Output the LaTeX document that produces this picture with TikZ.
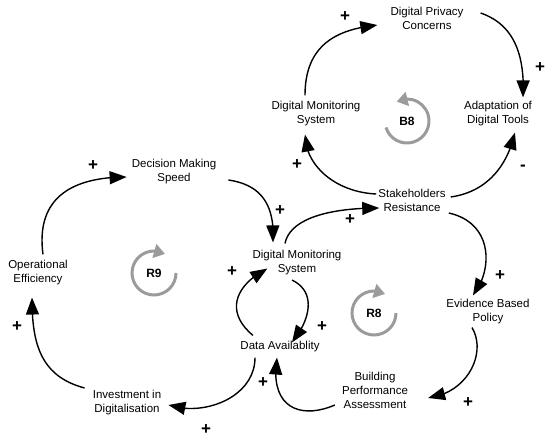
\documentclass[tikz,border=0pt]{standalone}
\usepackage{fontspec}
\setmainfont{Liberation Sans}
\definecolor{loopgray}{RGB}{155,155,155}
\usetikzlibrary{arrows.meta,bending,calc}

\begin{document}
\begin{tikzpicture}[x=1pt,y=-1pt,
        var/.style={align=center, inner sep=3pt, font=\fontsize{11.5}{14}\selectfont},
        link/.style={line width=1.4pt, -{Triangle[length=17pt,width=13pt]}},
        sign/.style={inner sep=0pt, font=\fontsize{17}{17}\selectfont\bfseries},
        looplbl/.style={inner sep=0pt, font=\fontsize{12}{14}\selectfont\bfseries},
        looparr/.style={loopgray, line width=3pt, -{Triangle[length=11pt,width=14pt]}}]
    \useasboundingbox (0,0) rectangle (550,441);

    \node[var] (dpc) at (427,18) {Digital Privacy\\Concerns};
    \node[var] (dmsT) at (316,114) {Digital Monitoring\\System};
    \node[var] (adt) at (498,114) {Adaptation of\\Digital Tools};
    \node[var] (sr) at (412,200) {Stakeholders\\Resistance};
    \node[var] (dspeed) at (174,172) {Decision Making\\Speed};
    \node[var] (opeff) at (38,273) {Operational\\Efficiency};
    \node[var] (dms) at (297,263) {Digital Monitoring\\System};
    \node[var] (da) at (280,347) {Data Availablity};
    \node[var] (ebp) at (488,312) {Evidence Based\\Policy};
    \node[var] (bpa) at (375,390) {Building\\Performance\\Assessment};
    \node[var] (inv) at (127,403) {Investment in\\Digitalisation};

    \node[looplbl] (b8) at (407,121) {B8};
    \node[looplbl] (r9) at (154,273) {R9};
    \node[looplbl] (r8) at (374,313) {R8};
    \draw[looparr] (b8) ++(197:22pt) arc[start angle=197, end angle=478, radius=22pt];
    \draw[looparr] (r9) ++(0:22pt) arc[start angle=0, end angle=-300, radius=22pt];
    \draw[looparr] (r8) ++(0:22pt) arc[start angle=0, end angle=-300, radius=22pt];

    \draw[link] ($(dmsT.north)+(-11,-3)$) .. controls +(0,-55) and +(-35,4) .. ($(dpc.west)+(-10,7)$);
    \draw[link] ($(dpc.east)+(14,-5)$) .. controls +(35,12) and +(2,-40) .. ($(adt.north)+(25,-1)$);
    \draw[link] ($(sr.west)+(1,-6)$) .. controls +(-42,-2) and +(0,30) .. ($(dmsT.south)+(-11,5)$);
    \draw[link] ($(sr.east)+(2,-3)$) .. controls +(35,-5) and +(-8,35) .. ($(adt.south)+(17,3)$);
    \draw[link] ($(dspeed.east)+(9,8)$) .. controls +(35,5) and +(2,-35) .. ($(dms.north)+(-24,-5)$);
    \draw[link] ($(opeff.north)+(5,-3)$) .. controls +(-8,-60) and +(-50,0) .. ($(dspeed.west)+(-2,5)$);
    \draw[link] ($(inv.west)+(-5,-15)$) .. controls +(-45,-12) and +(0,45) .. ($(opeff.south)+(-6,9)$);
    \draw[link] ($(da.south)+(-25,2)$) .. controls +(0,40) and +(35,12) .. ($(inv.east)+(4,2)$);
    \draw[link] ($(da.north)+(-27,-3)$) .. controls +(-30,-25) and +(-30,15) .. ($(dms.south west)+(18,-10)$);
    \draw[link] ($(dms.south)+(-5,1.5)$) .. controls +(25,12) and +(18,-22) .. ($(da.north)+(12,4)$);
    \draw[link] ($(dms.north)+(-12,-4)$) .. controls +(5,-25) and +(-50,0) .. ($(sr.west)+(4,8)$);
    \draw[link] ($(sr.east)+(0,13)$) .. controls +(45,10) and +(20,-25) .. ($(ebp.north)+(-15,-1)$);
    \draw[link] ($(ebp.south)+(-16,0)$) .. controls +(15,25) and +(40,-5) .. ($(bpa.east)+(17,8)$);
    \draw[link] ($(bpa.west)+(-4,15)$) .. controls +(-35,15) and +(-8,50) .. ($(da.south)+(-3,2)$);

    \node[sign] (s1) at (345,17) {+};
    \node[sign] (s2) at (540,68) {+};
    \node[sign] (s3) at (297,165) {+};
    \node[sign] (s4) at (523,168) {-};
    \node[sign] (s5) at (280,211) {+};
    \node[sign] (s6) at (350,220) {+};
    \node[sign] (s7) at (500,276) {+};
    \node[sign] (s8) at (232,272) {+};
    \node[sign] (s9) at (322,327) {+};
    \node[sign] (s10) at (263,383) {+};
    \node[sign] (s11) at (468,403) {+};
    \node[sign] (s12) at (206,430) {+};
    \node[sign] (s13) at (17,327) {+};
    \node[sign] (s14) at (93,166) {+};
\end{tikzpicture}
\end{document}
